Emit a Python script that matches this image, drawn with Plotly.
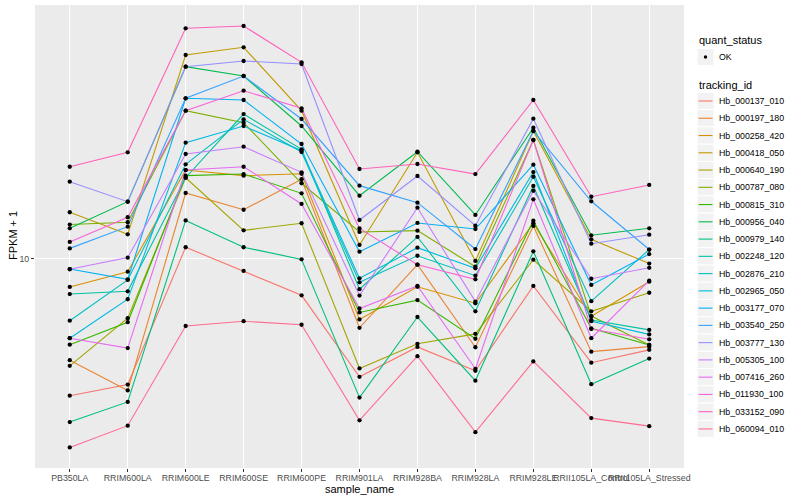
import plotly.graph_objects as go

samples = ["PB350LA", "RRIM600LA", "RRIM600LE", "RRIM600SE", "RRIM600PE", "RRIM901LA",
           "RRIM928BA", "RRIM928LA", "RRIM928LE", "RRII105LA_Control", "RRII105LA_Stressed"]

tracking_ids = ["Hb_000137_010", "Hb_000197_180", "Hb_000258_420", "Hb_000418_050", "Hb_000640_190",
                "Hb_000787_080", "Hb_000815_310", "Hb_000956_040", "Hb_000979_140", "Hb_002248_120",
                "Hb_002876_210", "Hb_002965_050", "Hb_003177_070", "Hb_003540_250", "Hb_003777_130",
                "Hb_005305_100", "Hb_007416_260", "Hb_011930_100", "Hb_033152_090", "Hb_060094_010"]

colors = ["#F8766D", "#EA8331", "#D89000", "#C09B00", "#A3A500", "#7CAE00", "#39B600", "#00BB4E",
          "#00BF7D", "#00C1A3", "#00BFC4", "#00BAE0", "#00B0F6", "#35A2FF", "#9590FF", "#C77CFF",
          "#E76BF3", "#FA62DB", "#FF62BC", "#FF6C91"]

# FPKM + 1 per sample (order of `samples`)
Hb_000137_010 = [4.54, 4.84, 10.67, 9.31, 8.09, 5.06, 6.01, 5.24, 8.54, 5.49, 5.91]
Hb_000197_180 = [5.57, 4.68, 14.58, 13.24, 15.78, 6.71, 9.65, 6.00, 12.06, 5.85, 6.02]
Hb_000258_420 = [8.49, 9.27, 16.64, 16.11, 16.29, 7.04, 8.50, 7.73, 12.25, 7.17, 8.75]
Hb_000418_050 = [13.05, 11.49, 32.27, 33.73, 23.42, 10.81, 18.43, 9.86, 20.83, 11.17, 9.71]
Hb_000640_190 = [5.39, 7.09, 15.92, 11.76, 12.25, 5.31, 6.12, 6.48, 9.93, 7.38, 8.21]
Hb_000787_080 = [12.16, 12.32, 23.42, 21.85, 15.42, 11.65, 11.74, 9.54, 19.78, 7.18, 6.08]
Hb_000815_310 = [6.09, 6.93, 16.11, 16.26, 14.55, 7.33, 7.87, 6.30, 12.43, 6.69, 6.08]
Hb_000956_040 = [11.90, 13.87, 30.17, 28.59, 21.44, 14.36, 18.49, 12.85, 21.23, 11.43, 11.90]
Hb_000979_140 = [3.90, 4.38, 12.45, 10.67, 9.95, 4.49, 7.14, 4.95, 10.42, 4.85, 5.62]
Hb_002248_120 = [8.15, 8.28, 15.92, 22.97, 18.75, 8.38, 11.32, 7.38, 15.18, 7.02, 6.63]
Hb_002876_210 = [6.99, 8.84, 17.20, 22.28, 18.46, 8.72, 10.16, 9.06, 16.01, 7.82, 10.53]
Hb_002965_050 = [6.32, 7.91, 19.48, 21.44, 18.60, 8.92, 10.64, 9.45, 16.45, 6.97, 6.46]
Hb_003177_070 = [9.41, 8.87, 25.15, 24.90, 19.33, 10.40, 12.27, 11.85, 17.16, 8.59, 10.26]
Hb_003540_250 = [10.60, 12.01, 25.15, 28.59, 22.32, 15.21, 13.79, 10.56, 20.83, 13.90, 10.53]
Hb_003777_130 = [15.56, 13.87, 30.17, 31.17, 30.64, 12.48, 16.08, 12.08, 22.36, 10.89, 11.47]
Hb_005305_100 = [9.40, 10.05, 18.25, 19.03, 16.42, 8.08, 13.40, 7.80, 14.77, 8.90, 9.48]
Hb_007416_260 = [6.32, 5.97, 16.64, 16.96, 13.69, 7.50, 8.54, 5.30, 14.06, 6.32, 8.80]
Hb_011930_100 = [11.00, 12.68, 23.42, 26.27, 23.74, 11.89, 9.65, 8.87, 19.78, 6.66, 6.28]
Hb_033152_090 = [16.96, 18.43, 37.63, 38.13, 30.94, 16.74, 17.23, 16.26, 24.90, 14.27, 15.27]
Hb_060094_010 = [3.37, 3.82, 6.78, 6.97, 6.83, 3.94, 5.70, 3.68, 5.53, 3.99, 3.81]

series = [Hb_000137_010, Hb_000197_180, Hb_000258_420, Hb_000418_050, Hb_000640_190,
          Hb_000787_080, Hb_000815_310, Hb_000956_040, Hb_000979_140, Hb_002248_120,
          Hb_002876_210, Hb_002965_050, Hb_003177_070, Hb_003540_250, Hb_003777_130,
          Hb_005305_100, Hb_007416_260, Hb_011930_100, Hb_033152_090, Hb_060094_010]

FONT = "Liberation Sans, Arial, Helvetica, sans-serif"
W, H = 800, 500
PL, PR, PT, PB = 35, 684, 5, 468   # panel box in pixels


def px_x(px):
    return (px - PL) / (PR - PL)


def px_y(py):
    return (PB - py) / (PB - PT)


fig = go.Figure()
for tid, col, vals in zip(tracking_ids, colors, series):
    fig.add_trace(go.Scatter(x=samples, y=vals, mode="lines", name=tid,
                             line=dict(color=col, width=1.1), showlegend=False,
                             hoverinfo="skip"))
for tid, vals in zip(tracking_ids, series):
    fig.add_trace(go.Scatter(x=samples, y=vals, mode="markers", name=tid,
                             marker=dict(color="black", size=4.3), showlegend=False))

shapes = []
annotations = []

# axis titles
annotations.append(dict(text="sample_name", x=px_x(359), y=px_y(489), xref="paper", yref="paper",
                        showarrow=False, xanchor="center", yanchor="middle",
                        font=dict(family=FONT, size=11, color="black")))
annotations.append(dict(text="FPKM + 1", x=px_x(13), y=px_y(236), xref="paper", yref="paper",
                        showarrow=False, xanchor="center", yanchor="middle", textangle=-90,
                        font=dict(family=FONT, size=11, color="black")))

# legend: quant_status
annotations.append(dict(text="quant_status", x=px_x(697), y=px_y(40), xref="paper", yref="paper",
                        showarrow=False, xanchor="left", yanchor="middle",
                        font=dict(family=FONT, size=11, color="black")))
shapes.append(dict(type="rect", xref="paper", yref="paper",
                   x0=px_x(697), x1=px_x(714), y0=px_y(48.5), y1=px_y(65.5),
                   fillcolor="#F2F2F2", line=dict(color="white", width=1)))
shapes.append(dict(type="circle", xref="paper", yref="paper",
                   x0=px_x(703.8), x1=px_x(707.2), y0=px_y(55.3), y1=px_y(58.7),
                   fillcolor="black", line=dict(color="black", width=0)))
annotations.append(dict(text="OK", x=px_x(716.5), y=px_y(57), xref="paper", yref="paper",
                        showarrow=False, xanchor="left", yanchor="middle",
                        font=dict(family=FONT, size=8.8, color="black")))

# legend: tracking_id
annotations.append(dict(text="tracking_id", x=px_x(697), y=px_y(85), xref="paper", yref="paper",
                        showarrow=False, xanchor="left", yanchor="middle",
                        font=dict(family=FONT, size=11, color="black")))
step = 17.26
for i, (tid, col) in enumerate(zip(tracking_ids, colors)):
    cy = 101 + i * step
    shapes.append(dict(type="rect", xref="paper", yref="paper",
                       x0=px_x(697), x1=px_x(714), y0=px_y(cy - step / 2), y1=px_y(cy + step / 2),
                       fillcolor="#F2F2F2", line=dict(color="white", width=1)))
    shapes.append(dict(type="line", xref="paper", yref="paper",
                       x0=px_x(698.5), x1=px_x(712.5), y0=px_y(cy), y1=px_y(cy),
                       line=dict(color=col, width=1.1)))
    annotations.append(dict(text=tid, x=px_x(716.5), y=px_y(cy), xref="paper", yref="paper",
                            showarrow=False, xanchor="left", yanchor="middle",
                            font=dict(family=FONT, size=8.8, color="black")))

fig.update_layout(
    width=W, height=H,
    margin=dict(l=PL, r=W - PR, t=PT, b=H - PB, pad=0),
    paper_bgcolor="white", plot_bgcolor="#EBEBEB",
    font=dict(family=FONT),
    showlegend=False,
    shapes=shapes, annotations=annotations,
    xaxis=dict(type="category", categoryorder="array", categoryarray=samples,
               range=[-0.6, len(samples) - 0.4], showgrid=True, gridcolor="white", gridwidth=1.1,
               zeroline=False, showline=False, ticks="outside", ticklen=3, tickwidth=1,
               tickcolor="#333333", tickangle=0, ticklabelstandoff=-2,
               tickfont=dict(family=FONT, size=8.8, color="#4D4D4D")),
    yaxis=dict(type="log", range=[0.47625, 1.63375], tickvals=[10], ticktext=["10"],
               showgrid=True, gridcolor="white", gridwidth=1.1, zeroline=False, showline=False,
               ticks="outside", ticklen=3, tickwidth=1, tickcolor="#333333",
               tickfont=dict(family=FONT, size=8.8, color="#4D4D4D")),
)

fig.write_html("out.html", config={"displayModeBar": False},
               post_script="document.body.style.margin='0';document.body.style.padding='0';")
